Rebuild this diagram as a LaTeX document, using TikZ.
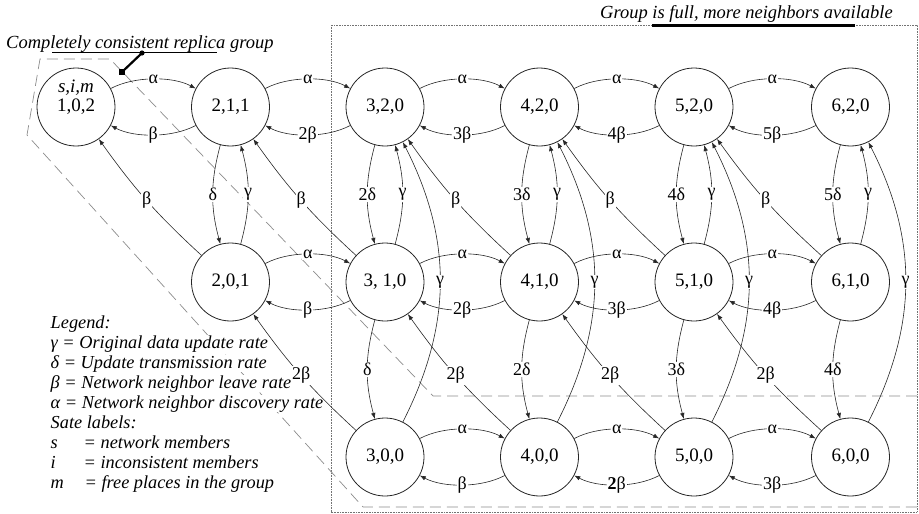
\documentclass[tikz,border=0pt]{standalone}
\usepackage{fontspec}
\setmainfont{Liberation Serif}
\usetikzlibrary{arrows.meta}
\begin{document}
\begin{tikzpicture}[x=1pt,y=-1pt,
  state/.style={circle,draw=black!85,line width=0.8pt,fill=white,minimum size=78pt,inner sep=0pt,font=\fontsize{19}{19}\selectfont},
  tr/.style={-{Latex[length=6pt,width=4.5pt]},line width=0.6pt,draw=black!85},
  lab/.style={fill=white,inner sep=1pt,font=\fontsize{18}{18}\selectfont},
  hb/.style={bend left=28,looseness=0.8},
  vb/.style={bend right=15},
  legline/.style={anchor=base west,inner sep=0.5pt,fill=white,font=\fontsize{18.3}{20}\selectfont\itshape},
  grp/.style={draw=black!45,line width=0.7pt,dash pattern=on 11pt off 6pt},
  frame/.style={draw=black!55,line width=0.6pt,dash pattern=on 0.7pt off 0.9pt},
  note/.style={inner sep=0pt,font=\fontsize{18.5}{20}\selectfont\itshape}
]
\useasboundingbox (0,0) rectangle (919,514);

% group regions
\draw[frame] (331,25) rectangle (917,512);
\draw[grp] (917,396) -- (433,396) -- (110,59) -- (40,59) -- (27,135) -- (363,507) -- (917,507);

% titles
\node[note,anchor=base west] (t1) at (6,48) {Completely consistent replica group};
\node[note,anchor=base east] (t2) at (893,18) {Group is full, more neighbors available};
\coordinate (u1a) at (52,52); \coordinate (u1b) at (217,52);
\draw[line width=0.8pt] (u1a) -- (u1b);
\coordinate (u2a) at (652,25.5); \coordinate (u2b) at (855,25.5);
\draw[line width=2.2pt] (u2a) -- (u2b);
\coordinate (pa) at (142,53); \coordinate (pb) at (122,72);
\draw[line width=2.2pt] (pa) -- (pb);
\fill (pa) circle (2.6);
\fill ([shift={(-2.6,-2.6)}]pb) rectangle ([shift={(2.6,2.6)}]pb);

% legend
\node[legline] (l1) at (50,328) {Legend:};
\node[legline] (l2) at (50,348) {γ = Original data update rate};
\node[legline] (l3) at (50,368) {δ = Update transmission rate};
\node[legline] (l4) at (50,388) {β = Network neighbor leave rate};
\node[legline] (l5) at (50,408) {α = Network neighbor discovery rate};
\node[legline] (l6) at (50,428) {Sate labels:};
\node[legline] (l7) at (50,448) {\makebox[33pt][l]{s}= network members};
\node[legline] (l8) at (50,468) {\makebox[33pt][l]{i}= inconsistent members};
\node[legline] (l9) at (50,488) {\makebox[34pt][l]{m}= free places in the group};

% states
\node[state] (n102) at (76,107) {1,0,2};
\node[anchor=base,inner sep=0pt,font=\fontsize{19}{19}\selectfont\itshape] (sim) at (76,92) {s,i,m};
\node[state] (n211) at (230.5,107) {2,1,1};
\node[state] (n320) at (385,107) {3,2,0};
\node[state] (n420) at (539.5,107) {4,2,0};
\node[state] (n520) at (694,107) {5,2,0};
\node[state] (n620) at (850.5,107) {6,2,0};
\node[state] (n201) at (230.5,282) {2,0,1};
\node[state] (n310) at (385,282) {3, 1,0};
\node[state] (n410) at (539.5,282) {4,1,0};
\node[state] (n510) at (694,282) {5,1,0};
\node[state] (n610) at (850.5,282) {6,1,0};
\node[state] (n300) at (385,457) {3,0,0};
\node[state] (n400) at (539.5,457) {4,0,0};
\node[state] (n500) at (694,457) {5,0,0};
\node[state] (n600) at (850.5,457) {6,0,0};

% horizontal transitions
\foreach \a/\b/\k in {n102/n211/, n211/n320/2, n320/n420/3, n420/n520/4, n520/n620/5,
                      n201/n310/, n310/n410/2, n410/n510/3, n510/n610/4,
                      n300/n400/}{
  \draw[tr] (\a) to[hb] node[lab]{α} (\b);
  \draw[tr] (\b) to[hb] node[lab]{\k β} (\a);
}
\draw[tr] (n400) to[hb] node[lab]{α} (n500);
\draw[tr] (n500) to[hb] node[lab]{\textbf{2}β} (n400);
\draw[tr] (n500) to[hb] node[lab]{α} (n600);
\draw[tr] (n600) to[hb] node[lab]{3β} (n500);

% vertical transitions row 1 <-> row 2
\foreach \a/\b/\k in {n211/n201/, n320/n310/2, n420/n410/3, n520/n510/4, n620/n610/5}{
  \draw[tr] (\a) to[vb] node[lab]{\k δ} (\b);
  \draw[tr] (\b) to[vb] node[lab]{γ} (\a);
}
% row 2 -> row 3
\foreach \a/\b/\k in {n310/n300/, n410/n400/2, n510/n500/3, n610/n600/4}{
  \draw[tr] (\a) to[vb] node[lab]{\k δ} (\b);
}
% long gamma
\foreach \a/\b in {n300/n320, n400/n420, n500/n520, n600/n620}{
  \draw[tr] (\a) to[bend right=27] node[lab]{γ} (\b);
}
% diagonals
\foreach \a/\b in {n201/n102, n310/n211, n410/n320, n510/n420, n610/n520}{
  \draw[tr] (\a) to[bend left=6] node[lab]{β} (\b);
}
\foreach \a/\b in {n300/n201, n400/n310, n500/n410, n600/n510}{
  \draw[tr] (\a) to[bend left=6] node[lab]{2β} (\b);
}
\end{tikzpicture}
\end{document}
